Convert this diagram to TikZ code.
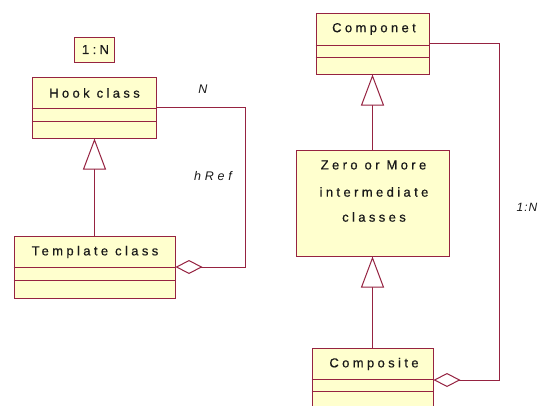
\documentclass[tikz,border=0pt]{standalone}
\usepackage{fontspec}
\usetikzlibrary{arrows.meta}
\newfontfamily\umlfont[LetterSpace=26,FakeBold=0.5]{Liberation Sans}
\newfontfamily\umlifont[LetterSpace=30]{Liberation Sans}
\newfontfamily\umlnfont[LetterSpace=8]{Liberation Sans}
\definecolor{umlline}{RGB}{150,35,65}
\definecolor{umlfill}{RGB}{255,255,206}
\definecolor{umltext}{RGB}{25,25,25}
\begin{document}
\begin{tikzpicture}[x=1pt,y=-1pt,
  box/.style={draw=umlline, fill=umlfill, line width=1pt, inner sep=0pt},
  ttl/.style={font=\umlfont\fontsize{13}{15}\selectfont, text=umltext, inner sep=0pt, anchor=center},
  lbl/.style={font=\umlifont\itshape\fontsize{12.5}{14}\selectfont, text=umltext, inner sep=0pt},
  lbln/.style={font=\umlnfont\itshape\fontsize{12}{14}\selectfont, text=umltext, inner sep=0pt},
  sep/.style={draw=umlline, line width=1pt},
  conn/.style={draw=umlline, line width=1pt},
  inherit/.style={conn, -{Triangle[open, width=23pt, length=31pt, line width=1pt, fill=white]}},
  aggr/.style={conn, {Diamond[open, width=14pt, length=27pt, line width=1pt, fill=white]}-}
]
\clip (0,0) rectangle (539,405);
\fill[white] (0,0) rectangle (539,405);

% 1:N box
\node[box, minimum width=40pt, minimum height=25pt] (onen) at (94,49.5) {};
\node[ttl] (onentxt) at ([xshift=1.5pt]onen.center) {1:N};

% Hook class
\node[box, minimum width=124pt, minimum height=61pt] (hook) at (94,107.5) {};
\node[ttl] (hooktxt) at (94.5,93) {Hook class};
\draw[sep] ([yshift=-32pt]hook.north west) -- ([yshift=-32pt]hook.north east);
\draw[sep] ([yshift=-45pt]hook.north west) -- ([yshift=-45pt]hook.north east);

% Template class
\node[box, minimum width=161pt, minimum height=62pt] (tmpl) at (94.5,267) {};
\node[ttl] (tmpltxt) at (95,252) {Template class};
\draw[sep] ([yshift=-32pt]tmpl.north west) -- ([yshift=-32pt]tmpl.north east);
\draw[sep] ([yshift=-45pt]tmpl.north west) -- ([yshift=-45pt]tmpl.north east);

% Componet
\node[box, minimum width=113pt, minimum height=61pt] (comp) at (372.5,43.5) {};
\node[ttl] (comptxt) at (374,29) {Componet};
\draw[sep] ([yshift=-33pt]comp.north west) -- ([yshift=-33pt]comp.north east);
\draw[sep] ([yshift=-45pt]comp.north west) -- ([yshift=-45pt]comp.north east);

% Zero or more intermediate classes
\node[box, minimum width=153pt, minimum height=106pt] (zero) at (372.5,203) {};
\node[ttl] (zt1) at (373.5,165) {Zero or More};
\node[ttl] (zt2) at (374,192) {intermediate};
\node[ttl] (zt3) at (374,217) {classes};

% Composite
\node[box, minimum width=121pt, minimum height=64pt] (composite) at (372.5,380) {};
\node[ttl] (comptxt2) at (374,364) {Composite};
\draw[sep] ([yshift=-32pt]composite.north west) -- ([yshift=-32pt]composite.north east);
\draw[sep] ([yshift=-44pt]composite.north west) -- ([yshift=-44pt]composite.north east);

% inheritance
\draw[inherit] (tmpl.north) -- (tmpl.north |- hook.south);
\draw[inherit] (zero.north) -- (comp.south);
\draw[inherit] (composite.north) -- (zero.south);

% aggregations
\coordinate (hr) at (245,0);
\draw[aggr] (tmpl.east) -- (tmpl.east -| hr) -- (hook.east -| hr) -- (hook.east);
\coordinate (cr) at (499,0);
\draw[aggr] (composite.east) -- (composite.east -| cr) -- (comp.east -| cr) -- (comp.east);

% labels
\node[lbl] (lN) at (203,89) {N};
\node[lbl] (lhref) at (213,176) {hRef};
\node[lbln] (l1n) at (527,207) {1:N};
\end{tikzpicture}
\end{document}
